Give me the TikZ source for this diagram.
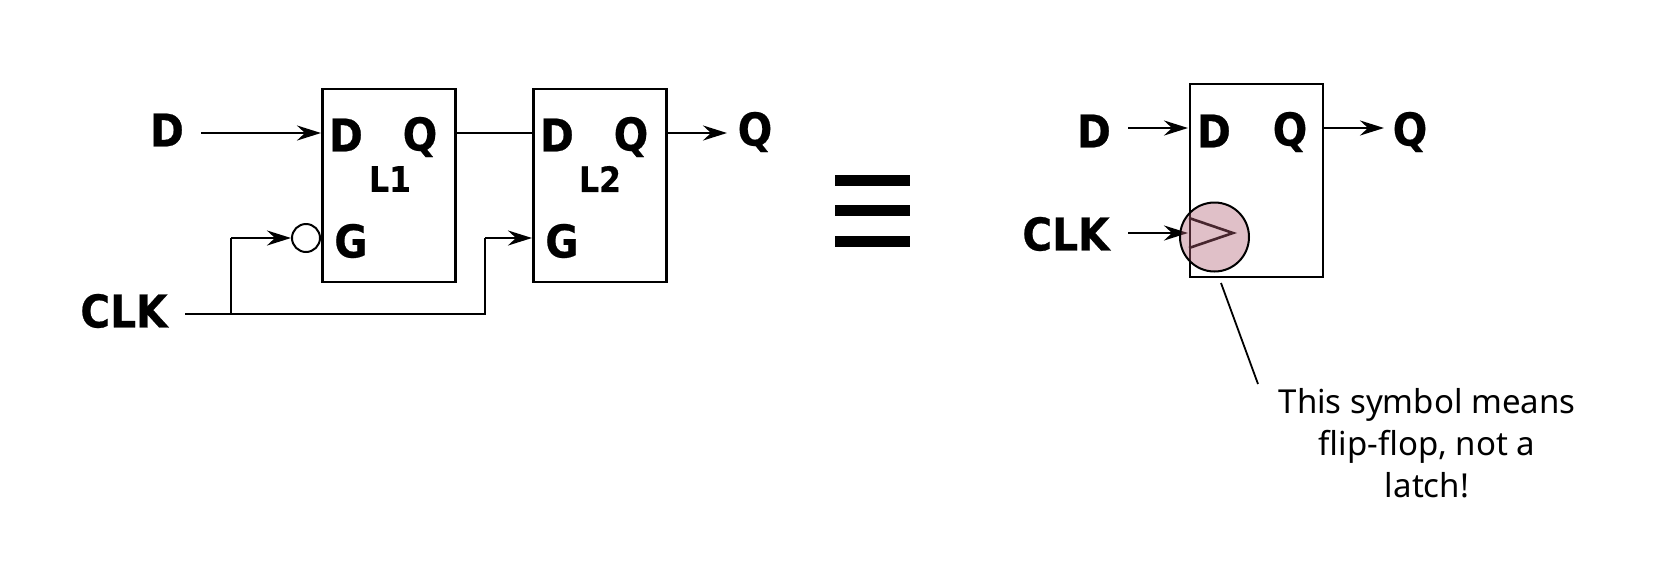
\documentclass[tikz,border=0pt]{standalone}
\usepackage{fontspec}
\usepackage{tikz}
\usetikzlibrary{arrows.meta,positioning}
\setmainfont{Noto Sans}
\newfontfamily\pinfont[FakeBold=0.5]{DejaVu Sans Condensed Bold}
\definecolor{clkpink}{rgb}{0.70,0.38,0.46}

\begin{document}
\begin{tikzpicture}[x=0.5pt, y=-0.5pt, line width=1.3pt, >={Stealth[length=12pt, width=7.5pt, inset=4pt]}]
      \tikzstyle{latch}=[draw, rectangle, minimum width=66.5pt, minimum height=96.5pt, inner sep=0pt]
      \tikzstyle{pin}=[inner sep=0pt, font=\pinfont\fontsize{22.6}{24}\selectfont]
      \tikzstyle{tag}=[inner sep=0pt, font=\pinfont\fontsize{17.5}{18}\selectfont]
      \tikzstyle{bubble}=[draw, circle, minimum size=14pt, inner sep=0pt, line width=1pt]
      \tikzstyle{bar}=[fill=black, rectangle, minimum width=37.5pt, minimum height=5.5pt, inner sep=0pt]

      \useasboundingbox (0,0) rectangle (1656,574);

      % two latches
      \node[latch] (L1) at (389,185.5) {};
      \node[latch] (L2) at (600,185.5) {};
      \node[latch] (FF) at (1256.5,180.5) {};

      \node[pin] (D1) at (346,135) {D};
      \node[pin] (Q1) at (420,137) {Q};
      \node[pin] (G1) at (351,241) {G};
      \node[tag] (T1) at (390,179) {L1};
      \node[pin] (D2) at (557,135) {D};
      \node[pin] (Q2) at (631,137) {Q};
      \node[pin] (G2) at (562,241) {G};
      \node[tag] (T2) at (600,179) {L2};

      \node[pin] (Din) at (167,130) {D};
      \node[pin] (Clk) at (124,311) {CLK};
      \node[pin] (Qout) at (755,132) {Q};
      \node[bubble] (Inv) at (306,238) {};

      % equivalent sign
      \node[bar] (B1) at (872.5,180.5) {};
      \node[bar] (B2) at (872.5,210.5) {};
      \node[bar] (B3) at (872.5,241) {};

      % flip-flop
      \node[pin] (D3) at (1214,131) {D};
      \node[pin] (Q3) at (1290,132) {Q};
      \node[pin] (Din2) at (1094,131) {D};
      \node[pin] (Clk2) at (1066,234) {CLK};
      \node[pin] (Qout2) at (1410,132) {Q};

      \coordinate (DinW) at (201,133);
      \coordinate (L1D) at (321,133);
      \coordinate (L1Q) at (456,133);
      \coordinate (L2D) at (533,133);
      \coordinate (L2Q) at (666,133);
      \coordinate (QoutW) at (727,133);
      \coordinate (ClkW) at (185,314);
      \coordinate (Tap) at (231,314);
      \coordinate (Up1) at (231,238);
      \coordinate (Turn) at (485,314);
      \coordinate (Up2) at (485,238);
      \coordinate (L2G) at (532,238);
      \coordinate (FFin) at (1128,128);
      \coordinate (FFd) at (1188,128);
      \coordinate (FFq) at (1323,128);
      \coordinate (FFout) at (1384,128);
      \coordinate (CkIn) at (1128,233);
      \coordinate (CkEnd) at (1188,233);
      \coordinate (TriA) at (1189,218);
      \coordinate (TriB) at (1233,233);
      \coordinate (TriC) at (1189,248);

      \draw[->] (DinW) -- (L1D);
      \draw (L1Q) -- (L2D);
      \draw[->] (L2Q) -- (QoutW);
      \draw (ClkW) -- (Turn) -- (Up2);
      \draw[->] (Up2) -- (L2G);
      \draw (Tap) -- (Up1);
      \draw[->] (Up1) -- (Inv.west);

      \draw[->] (FFin) -- (FFd);
      \draw[->] (FFq) -- (FFout);
      \draw[->] (CkIn) -- (CkEnd);
      \draw (TriA) -- (TriB) -- (TriC);

      \node[draw, circle, minimum size=34.5pt, inner sep=0pt, line width=1pt, fill=clkpink, fill opacity=0.4, draw opacity=1] (Mark) at (1214.5,237) {};

      % note
      \node[align=center, font=\fontsize{16.5}{21}\selectfont, inner sep=0pt] (Note) at (1427,443) {This symbol means\\flip-flop, not a\\latch!};
      \coordinate (NoteW) at (1258,384);
      \coordinate (FFb) at (1221,283);
      \draw[line width=0.9pt] (FFb) -- (NoteW);
\end{tikzpicture}
\end{document}
